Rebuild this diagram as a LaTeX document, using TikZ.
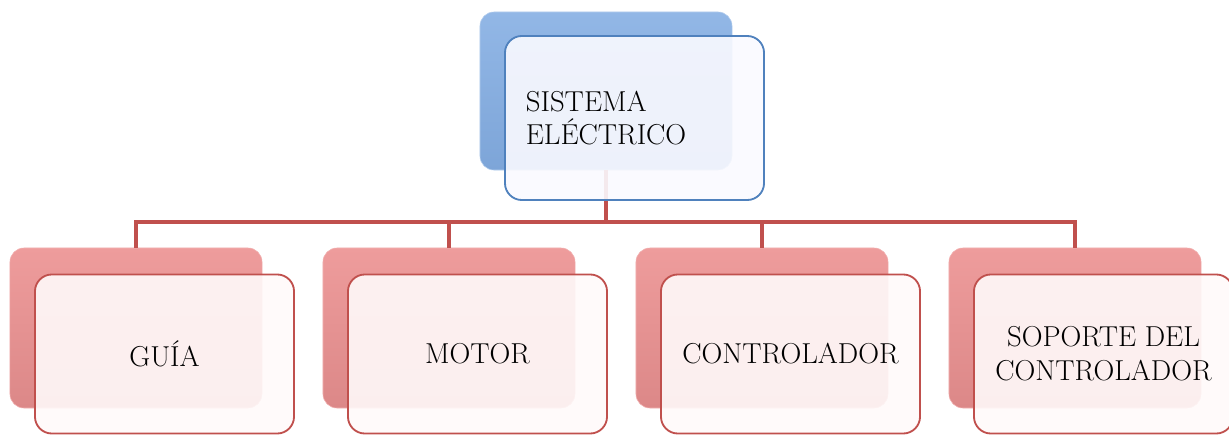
\documentclass[tikz,border=0pt]{standalone}
\usepackage{tikz}

\definecolor{bluefront}{HTML}{4F81BD}
\definecolor{bluetop}{HTML}{92B7E6}
\definecolor{bluebot}{HTML}{7DA5D8}
\definecolor{redline}{HTML}{C0504D}
\definecolor{redtop}{HTML}{EE9C9C}
\definecolor{redbot}{HTML}{DC8888}

\begin{document}
\begin{tikzpicture}[x=0.025cm, y=-0.025cm,
  every node/.style={font=\fontsize{20.5}{24}\selectfont},
  backbox/.style={rounded corners=10pt, minimum width=6.3cm, inner sep=0pt},
  bluebox/.style={backbox, minimum height=3.95cm, draw=bluetop!70, top color=bluetop, bottom color=bluebot},
  redbox/.style={backbox, minimum height=4cm, draw=redtop!80, top color=redtop, bottom color=redbot},
  frontbox/.style={rounded corners=12pt, line width=1.3pt, minimum width=6.475cm, inner sep=0pt, fill opacity=0.9, text opacity=1},
  topfront/.style={frontbox, minimum height=4.1cm, draw=bluefront, fill=blue!2},
  lowfront/.style={frontbox, minimum height=3.975cm, draw=redline, fill=red!2, align=center},
  bus/.style={redline, line width=3pt}]
\useasboundingbox (0,0) rectangle (1229,434);

% back boxes
\node[bluebox] (sysback) at (606,91) {};
\foreach \name/\xx in {guia/136, motor/449, ctrl/762, sop/1075}
  \node[redbox] (\name back) at (\xx,328) {};

% connectors
\coordinate (bus) at (606,222);
\draw[bus] (sysback.south) -- (bus);
\foreach \name in {guia, motor, ctrl, sop}
  \draw[bus] (bus) -| (\name back.north);

% front boxes
\node[topfront] (sys) at (634.5,118) {};
\node[anchor=west, align=left] (systext) at (sys.west) {\hspace{0.42cm}SISTEMA\\\hspace{0.42cm}ELÉCTRICO};
\node[lowfront] (guia) at (164.5,354) {GUÍA};
\node[lowfront] (motor) at (477.5,354) {MOTOR};
\node[lowfront] (ctrl) at (790.5,354) {CONTROLADOR};
\node[lowfront] (sop) at (1103.5,354) {SOPORTE DEL\\CONTROLADOR};
\end{tikzpicture}
\end{document}
